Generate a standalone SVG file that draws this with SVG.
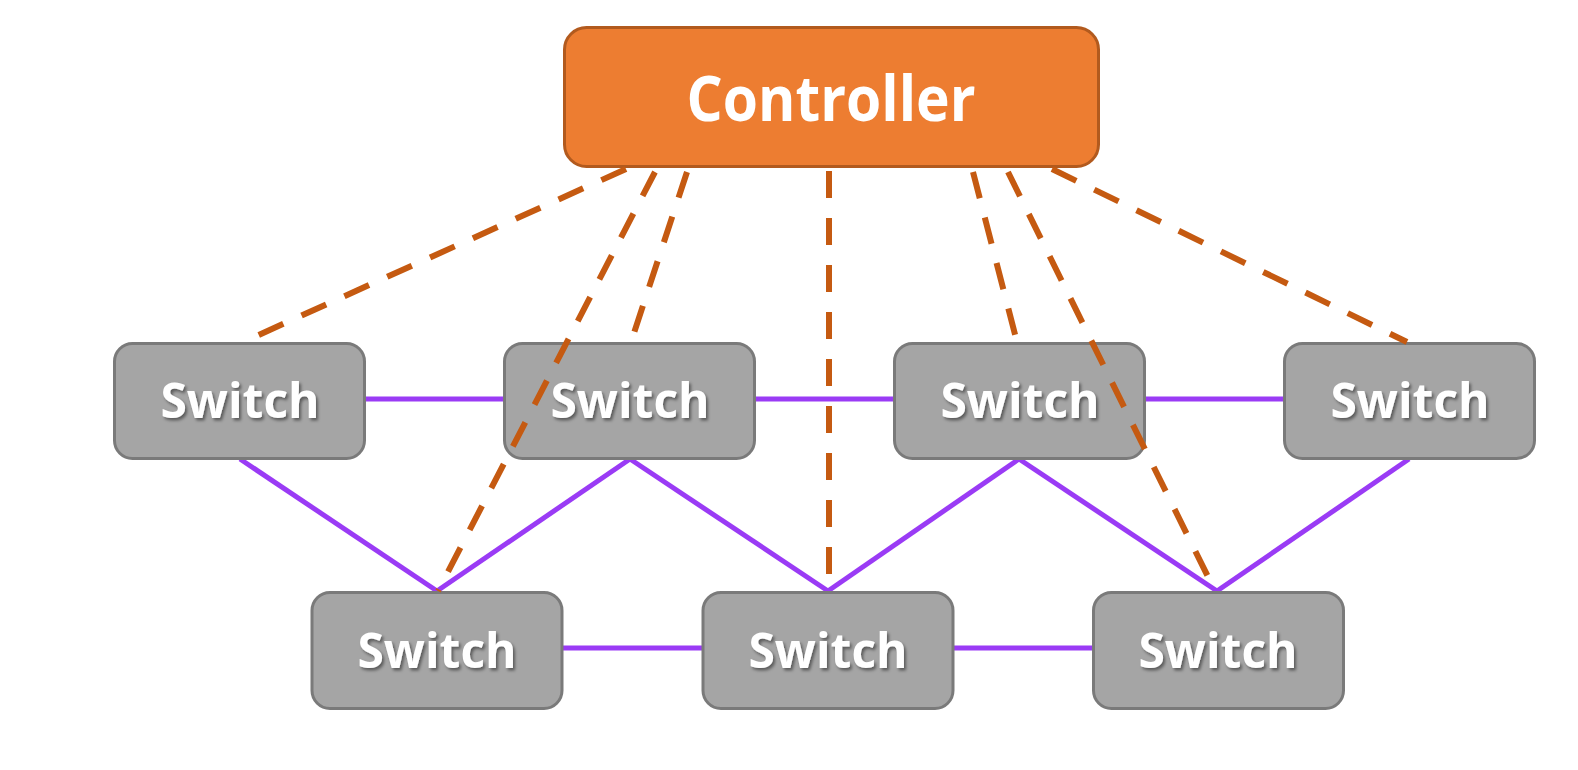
<svg xmlns="http://www.w3.org/2000/svg" width="1578" height="770" viewBox="0 0 1578 770">
<style>
.sw rect{fill:#A5A5A5;stroke:#7A7A7A;stroke-width:3}
.sw text{font-family:"Open Sans","Liberation Sans",sans-serif;font-weight:bold;font-size:48px;fill:#FFFFFF;text-anchor:middle;filter:url(#shadow)}
.link{stroke:#9A3BF5;stroke-width:5;fill:none}
.ctl{stroke:#C55A11;stroke-width:6;fill:none;stroke-dasharray:27 20}
</style>
<defs>
<filter id="shadow" x="-20%" y="-30%" width="140%" height="160%">
<feDropShadow dx="2" dy="2.5" stdDeviation="1.5" flood-color="#000" flood-opacity="0.45"/>
</filter>
</defs>
<rect width="1578" height="770" fill="#FFFFFF"/>
<g id="links">
<line class="link" x1="366" y1="399" x2="503" y2="399"/>
<line class="link" x1="756" y1="399" x2="893" y2="399"/>
<line class="link" x1="1146" y1="399" x2="1283" y2="399"/>
<line class="link" x1="563" y1="648" x2="702" y2="648"/>
<line class="link" x1="954" y1="648" x2="1093" y2="648"/>
<line class="link" x1="240" y1="459" x2="437" y2="591"/>
<line class="link" x1="630" y1="459" x2="437" y2="591"/>
<line class="link" x1="630" y1="459" x2="828" y2="591"/>
<line class="link" x1="1019" y1="459" x2="828" y2="591"/>
<line class="link" x1="1019" y1="459" x2="1217" y2="591"/>
<line class="link" x1="1409" y1="459" x2="1217" y2="591"/>
</g>
<g id="controller">
<rect x="564.5" y="27.5" width="534" height="139" rx="22" fill="#ED7D31" stroke="#B25A1E" stroke-width="3"/>
<text x="831" y="121" font-family="'Open Sans','Liberation Sans',sans-serif" font-weight="bold" font-size="62" fill="#FFFFFF" text-anchor="middle" textLength="289" lengthAdjust="spacingAndGlyphs">Controller</text>
</g>
<g id="switch-t1" class="sw"><rect x="114.5" y="343.5" width="250" height="115" rx="18"/><text x="240" y="418">Switch</text></g>
<g id="switch-t2" class="sw"><rect x="504.5" y="343.5" width="250" height="115" rx="18"/><text x="630" y="418">Switch</text></g>
<g id="switch-t3" class="sw"><rect x="894.5" y="343.5" width="250" height="115" rx="18"/><text x="1020" y="418">Switch</text></g>
<g id="switch-t4" class="sw"><rect x="1284.5" y="343.5" width="250" height="115" rx="18"/><text x="1410" y="418">Switch</text></g>
<g id="switch-b1" class="sw"><rect x="312" y="592.5" width="250" height="116" rx="18"/><text x="437" y="668">Switch</text></g>
<g id="switch-b2" class="sw"><rect x="703" y="592.5" width="250" height="116" rx="18"/><text x="828" y="668">Switch</text></g>
<g id="switch-b3" class="sw"><rect x="1093.5" y="592.5" width="250" height="116" rx="18"/><text x="1218" y="668">Switch</text></g>
<g id="control-links">
<line class="ctl" x1="626" y1="169" x2="243" y2="342"/>
<line class="ctl" x1="655" y1="172" x2="438" y2="591"/>
<line class="ctl" x1="687" y1="172" x2="631" y2="342"/>
<line class="ctl" x1="829" y1="171" x2="829" y2="591"/>
<line class="ctl" x1="973" y1="172" x2="1017" y2="342"/>
<line class="ctl" x1="1008" y1="172" x2="1215" y2="591"/>
<line class="ctl" x1="1052" y1="169" x2="1407" y2="342"/>
</g>
</svg>
